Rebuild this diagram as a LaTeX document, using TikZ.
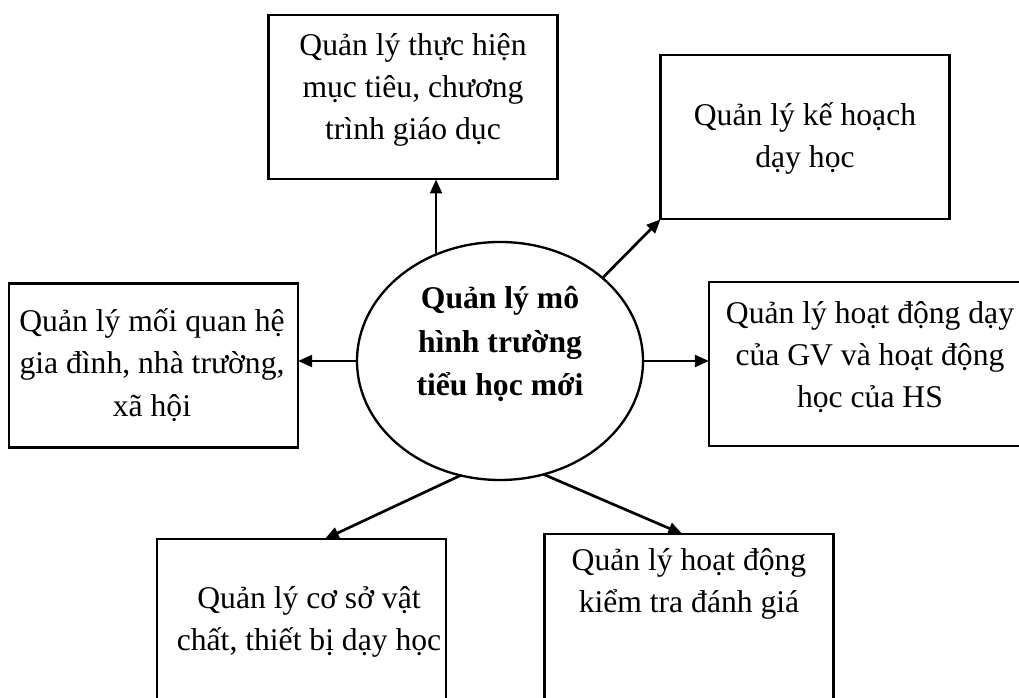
\documentclass[tikz,border=0pt]{standalone}
\usepackage{fontspec}
\setmainfont{Liberation Serif}
\usepackage{tikz}
\usetikzlibrary{arrows.meta, calc}
\usetikzlibrary{shapes.geometric}
\tikzstyle{box} = [draw=black, outer sep=0, inner sep=0,
    minimum width=8.67cm, minimum height=4.92cm, line width=2pt]
\tikzstyle{oval} = [draw=black, ellipse, outer sep=0, inner sep=0,
    minimum width=8.58cm, minimum height=7.14cm, line width=2pt]
\tikzstyle{txt} = [draw=none, outer sep=0, inner sep=0, align=center,
    font=\fontsize{27}{36}\selectfont]
\tikzstyle{arr} = [line width=2.3pt, -{Triangle[length=12pt,width=10pt]}]

\begin{document}
\begin{tikzpicture}

\clip (0,0) rectangle (30.57,20.94);

%%% centre
\node[oval] (goc) at (15.0,10.11) {};
\node[txt, font=\fontsize{27}{37}\selectfont\bfseries] (goct) at (15.0,10.62) {Quản lý mô\\ hình trường\\ tiểu học mới};

%%% boxes
\node[box] (mt) at (12.39,18.02) {};
\node[txt] (mtt) at (12.39,18.24) {Quản lý thực hiện\\ mục tiêu, chương\\ trình giáo dục};

\node[box] (kh) at (24.15,16.82) {};
\node[txt] (kht) at (24.15,16.78) {Quản lý kế hoạch\\ dạy học};

\node[box] (qh) at (4.605,9.975) {};
\node[txt] (qht) at (4.56,9.99) {Quản lý mối quan hệ\\ gia đình, nhà trường,\\ xã hội};

\node[box, minimum width=9.63cm] (hd) at (26.085,10.02) {};
\node[txt] (hdt) at (26.1,10.22) {Quản lý hoạt động dạy\\ của GV và hoạt động\\ học của HS};

\node[box, minimum height=5.4cm] (vc) at (9.045,2.07) {};
\node[txt] (vct) at (9.27,2.28) {Quản lý cơ sở vật\\ chất, thiết bị dạy học};

\node[box, minimum height=5.4cm] (kt) at (20.67,2.22) {};
\node[txt] (ktt) at (20.67,3.43) {Quản lý hoạt động\\ kiểm tra đánh giá};

%%% arrows
\draw[arr] (goc.121) -- (goc.121 |- mt.south);
\draw[arr] (goc.39) -- (kh.south west);
\draw[arr] (goc.east) -- (goc.east -| hd.west);
\draw[arr] (goc.west) -- (goc.west -| qh.east);
\draw[arr] (goc.251) -- ($(vc.north)+(0.7,0)$);
\draw[arr] (goc.291.5) -- ($(kt.north)+(-0.2,0)$);

\end{tikzpicture}
\end{document}
